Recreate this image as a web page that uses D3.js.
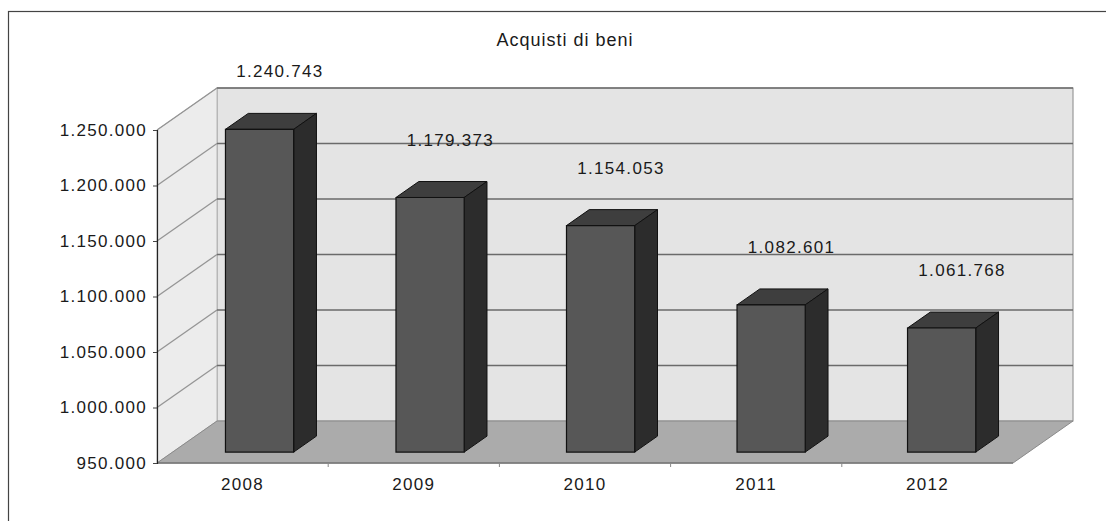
<!DOCTYPE html>
<html>
<head>
<meta charset="utf-8">
<script src="https://cdn.jsdelivr.net/npm/d3@7"></script>
<style>
  body { margin: 0; background: #fff; }
  text { font-family: "Liberation Sans", Arial, sans-serif; fill: #1a1a1a; }
</style>
</head>
<body>
<div id="chart"></div>
<script>
// data
var years = ["2008", "2009", "2010", "2011", "2012"];
var values = [1240743, 1179373, 1154053, 1082601, 1061768];
var tickValues = [950000, 1000000, 1050000, 1100000, 1150000, 1200000, 1250000];
var title = "Acquisti di beni";

var svgWidth = 1106;
var svgHeight = 521;

// front plane of the 3d box
var plot = { left: 157, right: 1013, top: 130, bottom: 463 };
// depth offset of the back wall
var depth = { dx: 60, dy: -42 };
// bar front and back depth (0 = front, 1 = back wall)
var barT0 = 0.26, barT1 = 0.64;

var fmt = d3.formatLocale({ decimal: ",", thousands: ".", grouping: [3], currency: ["", "€"] }).format(",d");

var svg = d3.select("#chart")
  .append("svg")
  .attr("width", svgWidth)
  .attr("height", svgHeight);

// outer frame (only top and left show)
svg.append("rect")
  .attr("x", 8.5).attr("y", 11.5)
  .attr("width", 1200).attr("height", 600)
  .attr("fill", "none")
  .attr("stroke", "#444")
  .attr("stroke-width", 1.2);

var y = d3.scaleLinear()
  .domain([950000, 1250000])
  .range([plot.bottom, plot.top]);

var xBand = d3.scaleBand()
  .domain(years)
  .range([plot.left, plot.right])
  .paddingInner(0.6)
  .paddingOuter(0.31);

var xStep = d3.scaleBand()
  .domain(years)
  .range([plot.left, plot.right]);

// project a front-plane point to depth t
function P(x, v, t) {
  return [x + depth.dx * t, y(v) + depth.dy * t];
}
function poly(pts) {
  return pts.map(p => p.join(",")).join(" ");
}

var vMin = y.domain()[0], vMax = y.domain()[1];

// back wall
svg.append("polygon")
  .attr("points", poly([P(plot.left, vMin, 1), P(plot.right, vMin, 1), P(plot.right, vMax, 1), P(plot.left, vMax, 1)]))
  .attr("fill", "#e4e4e4")
  .attr("stroke", "#9a9a9a")
  .attr("stroke-width", 1.2);

// left wall
svg.append("polygon")
  .attr("points", poly([P(plot.left, vMin, 0), P(plot.left, vMin, 1), P(plot.left, vMax, 1), P(plot.left, vMax, 0)]))
  .attr("fill", "#ececec")
  .attr("stroke", "#b8b8b8")
  .attr("stroke-width", 1);

// floor
svg.append("polygon")
  .attr("points", poly([P(plot.left, vMin, 0), P(plot.right, vMin, 0), P(plot.right, vMin, 1), P(plot.left, vMin, 1)]))
  .attr("fill", "#ababab")
  .attr("stroke", "#8a8a8a")
  .attr("stroke-width", 1);

// gridlines on back wall and left wall
var grid = tickValues.filter(v => v > vMin);
svg.append("g").selectAll("line")
  .data(grid)
  .enter()
  .append("line")
  .attr("x1", d => P(plot.left, d, 1)[0])
  .attr("y1", d => P(plot.left, d, 1)[1])
  .attr("x2", d => P(plot.right, d, 1)[0])
  .attr("y2", d => P(plot.right, d, 1)[1])
  .attr("stroke", "#6a6a6a")
  .attr("stroke-width", 1.5);

svg.append("g").selectAll("line")
  .data(grid)
  .enter()
  .append("line")
  .attr("x1", d => P(plot.left, d, 0)[0])
  .attr("y1", d => P(plot.left, d, 0)[1])
  .attr("x2", d => P(plot.left, d, 1)[0])
  .attr("y2", d => P(plot.left, d, 1)[1])
  .attr("stroke", "#959595")
  .attr("stroke-width", 1.3);

// floor front edge
svg.append("line")
  .attr("x1", plot.left).attr("y1", plot.bottom)
  .attr("x2", plot.right).attr("y2", plot.bottom)
  .attr("stroke", "#777")
  .attr("stroke-width", 1.5);

// bars
var bars = svg.append("g").selectAll("g")
  .data(years.map((d, i) => ({ year: d, value: values[i] })))
  .enter()
  .append("g");

// top face
bars.append("polygon")
  .attr("points", d => {
    var x0 = xBand(d.year), x1 = x0 + xBand.bandwidth();
    return poly([P(x0, d.value, barT0), P(x1, d.value, barT0), P(x1, d.value, barT1), P(x0, d.value, barT1)]);
  })
  .attr("fill", "#3e3e3e")
  .attr("stroke", "#111")
  .attr("stroke-width", 1);

// side face
bars.append("polygon")
  .attr("points", d => {
    var x1 = xBand(d.year) + xBand.bandwidth();
    return poly([P(x1, vMin, barT0), P(x1, vMin, barT1), P(x1, d.value, barT1), P(x1, d.value, barT0)]);
  })
  .attr("fill", "#2c2c2c")
  .attr("stroke", "#111")
  .attr("stroke-width", 1);

// front face
bars.append("polygon")
  .attr("points", d => {
    var x0 = xBand(d.year), x1 = x0 + xBand.bandwidth();
    return poly([P(x0, vMin, barT0), P(x1, vMin, barT0), P(x1, d.value, barT0), P(x0, d.value, barT0)]);
  })
  .attr("fill", "#575757")
  .attr("stroke", "#111")
  .attr("stroke-width", 1.2);

// value labels
bars.append("text")
  .attr("x", d => xBand(d.year) + xBand.bandwidth() / 2 + 36)
  .attr("y", d => P(0, d.value, barT1)[1] - 36)
  .attr("text-anchor", "middle")
  .style("font-size", "17px")
  .style("letter-spacing", "1.3px")
  .text(d => fmt(d.value));

// y axis on the front left edge
var yAxis = svg.append("g")
  .attr("transform", `translate(${plot.left}, 0)`)
  .call(d3.axisLeft(y).tickValues(tickValues).tickFormat(fmt).tickSize(4).tickPadding(6));
yAxis.select(".domain").attr("stroke", "#222").attr("stroke-width", 1.2);
yAxis.selectAll(".tick line").attr("stroke", "#444");
yAxis.selectAll("text")
  .style("font-size", "17px")
  .style("letter-spacing", "1.3px")
  .attr("fill", "#1a1a1a");

// x axis
var xAxis = svg.append("g")
  .attr("transform", `translate(0, ${plot.bottom})`)
  .call(d3.axisBottom(xStep).tickSize(0).tickPadding(15));
xAxis.select(".domain").remove();
xAxis.selectAll("text")
  .style("font-size", "17px")
  .style("letter-spacing", "1.3px")
  .attr("fill", "#1a1a1a");

// small category separators on the floor edge
svg.append("g").selectAll("line")
  .data(years.slice(1))
  .enter()
  .append("line")
  .attr("x1", d => xStep(d)).attr("x2", d => xStep(d))
  .attr("y1", plot.bottom).attr("y2", plot.bottom + 4)
  .attr("stroke", "#888");

// title
svg.append("text")
  .attr("x", 565)
  .attr("y", 46)
  .attr("text-anchor", "middle")
  .style("font-size", "18px")
  .style("letter-spacing", "1px")
  .text(title);
</script>
</body>
</html>
